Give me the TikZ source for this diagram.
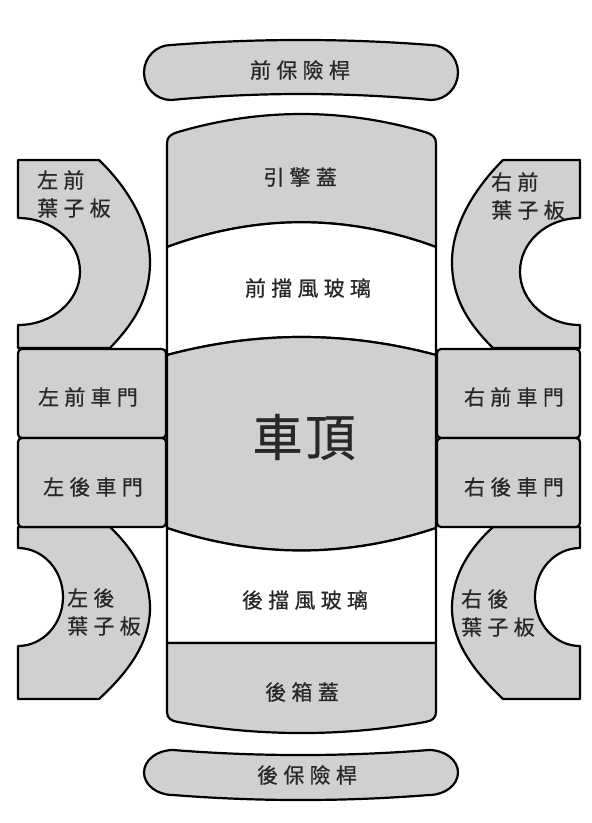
\documentclass[tikz,border=0pt]{standalone}
\usepackage{fontspec}
\usepackage{tikz}
\usepackage{color}
\newfontfamily\cjk[LetterSpace=25,FakeBold=0.6]{Noto Sans CJK TC}
\newfontfamily\cjkbig[LetterSpace=6,FakeBold=0.6]{Noto Sans CJK TC}
\definecolor{panelgray}{RGB}{208,208,208}
\definecolor{inkgray}{RGB}{40,40,40}

\begin{document}
\begin{tikzpicture}[x=1pt,y=1pt,
    part/.style={draw=black,fill=panelgray,line width=2.2pt,line join=round},
    glass/.style={draw=black,fill=white,line width=2.2pt,line join=round},
    lbl/.style={text=inkgray,font=\cjk\fontsize{21}{28}\selectfont},
    bigl/.style={text=inkgray,font=\cjkbig\fontsize{50}{50}\selectfont}]
              \tikzstyle{every node}+=[inner sep=0pt]
              \useasboundingbox (0,0) rectangle (592,-823);
              \fill [white] (0,0) rectangle (592,-823);
              \draw [part] (171,-45) .. controls (258,-38.3) and (344,-38.3) .. (431,-45)
                arc [start angle=90, end angle=-90, x radius=27, y radius=27.5]
                .. controls (344,-92) and (258,-92) .. (171,-100)
                arc [start angle=270, end angle=90, x radius=27, y radius=27.5] -- cycle;
              \draw [part] (167,-247) -- (167,-143) .. controls (167,-137) and (171,-134) .. (178,-132)
                .. controls (260,-108) and (343,-108) .. (425,-132)
                .. controls (432,-134) and (436,-137) .. (436,-143) -- (436,-247)
                .. controls (346,-214) and (257,-214) .. (167,-247) -- cycle;
              \draw [glass] (167,-247) .. controls (257,-214) and (346,-214) .. (436,-247) -- (436,-355)
                .. controls (346,-331) and (257,-331) .. (167,-355) -- cycle;
              \draw [part] (167,-355) .. controls (257,-331) and (346,-331) .. (436,-355) -- (436,-528)
                .. controls (346,-558) and (257,-558) .. (167,-528) -- cycle;
              \draw [glass] (167,-528) .. controls (257,-558) and (346,-558) .. (436,-528) -- (436,-643)
                -- (167,-643) -- cycle;
              \draw [part] (167,-643) -- (436,-643) -- (436,-712) .. controls (436,-718) and (432,-721) .. (425,-722)
                .. controls (343,-736.7) and (260,-736.7) .. (178,-722)
                .. controls (171,-721) and (167,-718) .. (167,-712) -- cycle;
              \draw [part] (173,-750) .. controls (258,-756.7) and (344,-756.7) .. (429,-750)
                arc [start angle=90, end angle=-90, x radius=29, y radius=22.5]
                .. controls (344,-801.7) and (258,-801.7) .. (173,-795)
                arc [start angle=270, end angle=90, x radius=29, y radius=22.5] -- cycle;
              \draw [part] (18,-160) -- (99,-160) .. controls (125,-185) and (150,-222) .. (150,-262)
                .. controls (150,-300) and (132,-325) .. (110,-348) -- (18,-348) -- (18,-325)
                arc [start angle=-90, end angle=90, x radius=62, y radius=53.5] -- cycle;
              \draw [part] (18,-527) -- (110,-527) .. controls (132,-548) and (150,-575) .. (150,-608)
                .. controls (150,-645) and (125,-675) .. (99,-699) -- (18,-699) -- (18,-646)
                arc [start angle=-90, end angle=90, x radius=45, y radius=49] -- cycle;
              \draw [part] (580,-160) -- (503,-160) .. controls (478,-185) and (452,-222) .. (452,-262)
                .. controls (452,-300) and (470,-325) .. (493,-348) -- (580,-348) -- (580,-325)
                arc [start angle=270, end angle=90, x radius=60, y radius=53.5] -- cycle;
              \draw [part] (580,-527) -- (493,-527) .. controls (470,-548) and (452,-575) .. (452,-608)
                .. controls (452,-645) and (478,-675) .. (503,-699) -- (580,-699) -- (580,-646)
                arc [start angle=270, end angle=90, x radius=45, y radius=49] -- cycle;
              \draw [part, rounded corners=4] (18,-349) rectangle (166,-438);
              \draw [part, rounded corners=4] (18,-438) rectangle (166,-527);
              \draw [part, rounded corners=4] (437,-349) rectangle (580,-438);
              \draw [part, rounded corners=4] (437,-438) rectangle (580,-527);
              \node [lbl] (bumperF) at (300,-70) {前保險桿};
              \node [lbl] (hood) at (300,-177) {引擎蓋};
              \node [lbl] (wshieldF) at (308,-288) {前擋風玻璃};
              \node [bigl] (roof) at (304,-437) {車頂};
              \node [lbl] (wshieldR) at (305,-600) {後擋風玻璃};
              \node [lbl] (trunk) at (302,-692) {後箱蓋};
              \node [lbl] (bumperR) at (307,-775) {後保險桿};
              \node [lbl] (doorLF) at (88,-397) {左前車門};
              \node [lbl] (doorLR) at (93,-487) {左後車門};
              \node [lbl] (doorRF) at (514,-397) {右前車門};
              \node [lbl] (doorRR) at (514,-487) {右後車門};
              \node [lbl, align=left, anchor=west] (fenderLF) at (37,-194) {左前\\葉子板};
              \node [lbl, align=left, anchor=west] (fenderLR) at (67,-612) {左後\\葉子板};
              \node [lbl, align=left, anchor=west] (fenderRF) at (491,-196) {右前\\葉子板};
              \node [lbl, align=left, anchor=west] (fenderRR) at (461,-613) {右後\\葉子板};
            \end{tikzpicture}
\end{document}
